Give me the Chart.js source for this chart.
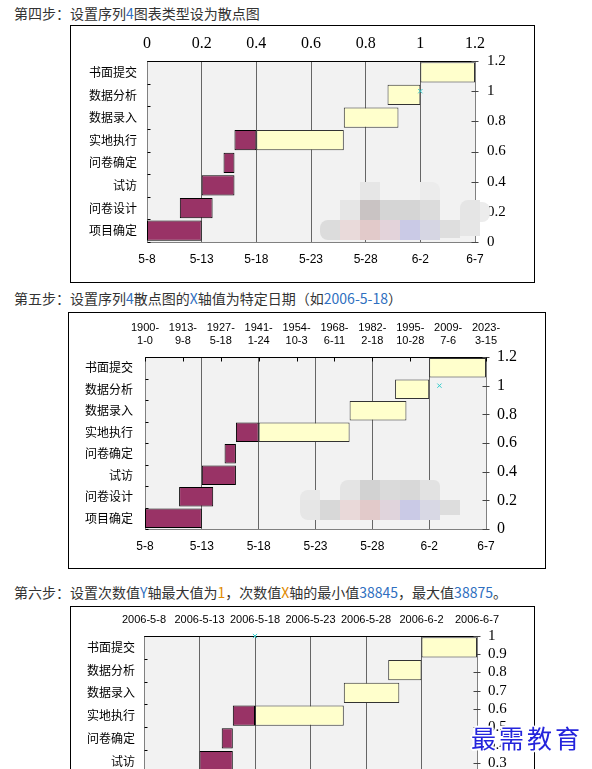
<!DOCTYPE html>
<html><head><meta charset="utf-8">
<script src="https://cdn.jsdelivr.net/npm/chart.js@4.4.1/dist/chart.umd.min.js"></script>
<style>
html,body{margin:0;padding:0;background:#fff;}
body{width:592px;height:769px;overflow:hidden;position:relative;font-family:"Noto Sans CJK SC",sans-serif;}
.step{position:absolute;left:14px;font-size:14px;line-height:16px;color:#333;white-space:nowrap;}
.hl{color:#2f6fc0;} .hl2{color:#e08a00;}
.box{position:absolute;border:1px solid #000;background:#fff;box-sizing:border-box;}
canvas{position:absolute;}
.m{position:absolute;}
.wm{position:absolute;left:471px;top:722px;font-size:25px;line-height:30px;letter-spacing:3px;color:#2424dc;white-space:nowrap;
 text-shadow:1px 1px 0 #fff,-1px -1px 0 #fff,1px -1px 0 #fff,-1px 1px 0 #fff,2px 0 0 #fff,-2px 0 0 #fff,0 2px 0 #fff,0 -2px 0 #fff;}
</style></head>
<body>
<div class="step" style="top:5px">第四步：设置序列<span class="hl">4</span>图表类型设为散点图</div>
<div class="box" style="left:70px;top:25px;width:465px;height:258px"></div>
<canvas id="c1" width="462" height="255" style="left:71px;top:26px"></canvas>

<div class="step" style="top:290px">第五步：设置序列<span class="hl">4</span>散点图的<span class="hl">X</span>轴值为特定日期（如<span class="hl">2006-5-18</span>）</div>
<div class="box" style="left:68px;top:312px;width:478px;height:257px"></div>
<canvas id="c2" width="475" height="254" style="left:69px;top:313px"></canvas>

<div class="step" style="top:584px">第六步：设置次数值<span class="hl">Y</span>轴最大值为<span class="hl2">1</span>，次数值<span class="hl2">X</span>轴的最小值<span class="hl">38845</span>，最大值<span class="hl">38875</span>。</div>
<div class="box" style="left:70px;top:606px;width:465px;height:300px"></div>
<canvas id="c3" width="462" height="250" style="left:71px;top:607px"></canvas>

<!-- mosaic blur decorations -->
<div class="m" style="left:360px;top:182px;width:20px;height:18px;background:#e6e6e6"></div>
<div class="m" style="left:420px;top:182px;width:20px;height:18px;background:#ececec;border-top-right-radius:8px"></div>
<div class="m" style="left:340px;top:200px;width:20px;height:20px;background:#e6e6e6"></div>
<div class="m" style="left:360px;top:200px;width:20px;height:20px;background:#c9c3c3"></div>
<div class="m" style="left:380px;top:200px;width:40px;height:20px;background:#d5d5d5"></div>
<div class="m" style="left:420px;top:200px;width:20px;height:20px;background:#dcdcdc"></div>
<div class="m" style="left:460px;top:200px;width:20px;height:20px;background:#e5e5e5;border-top-left-radius:8px"></div>
<div class="m" style="left:480px;top:202px;width:10px;height:20px;background:#ececec;border-radius:0 8px 8px 0"></div>
<div class="m" style="left:320px;top:220px;width:20px;height:20px;background:#dcdcdc;border-radius:8px 0 0 8px"></div>
<div class="m" style="left:340px;top:220px;width:20px;height:20px;background:#e9dada"></div>
<div class="m" style="left:360px;top:220px;width:20px;height:20px;background:#e2caca"></div>
<div class="m" style="left:380px;top:220px;width:20px;height:20px;background:#e3d3da"></div>
<div class="m" style="left:400px;top:220px;width:20px;height:20px;background:#cacae6"></div>
<div class="m" style="left:420px;top:220px;width:20px;height:20px;background:#d6d6e3"></div>
<div class="m" style="left:440px;top:220px;width:20px;height:18px;background:#dedede"></div>
<div class="m" style="left:460px;top:220px;width:20px;height:16px;background:#e6e6e6"></div>

<div class="m" style="left:300px;top:490px;width:20px;height:10px;background:#e8e8e8;border-top-left-radius:8px"></div>
<div class="m" style="left:340px;top:480px;width:20px;height:20px;background:#e4e4e4;border-top-left-radius:8px"></div>
<div class="m" style="left:360px;top:480px;width:20px;height:20px;background:#d2d2d2"></div>
<div class="m" style="left:380px;top:480px;width:20px;height:20px;background:#dadada"></div>
<div class="m" style="left:400px;top:480px;width:20px;height:20px;background:#d8d8d8"></div>
<div class="m" style="left:420px;top:480px;width:20px;height:20px;background:#e2e2e2;border-top-right-radius:6px"></div>
<div class="m" style="left:300px;top:500px;width:20px;height:20px;background:#e6e6e6;border-bottom-left-radius:8px"></div>
<div class="m" style="left:320px;top:500px;width:20px;height:20px;background:#d8d8d8"></div>
<div class="m" style="left:340px;top:500px;width:20px;height:20px;background:#e9d9d9"></div>
<div class="m" style="left:360px;top:500px;width:20px;height:20px;background:#e2caca"></div>
<div class="m" style="left:380px;top:500px;width:20px;height:20px;background:#e0d4dc"></div>
<div class="m" style="left:400px;top:500px;width:20px;height:20px;background:#cacae6"></div>
<div class="m" style="left:420px;top:500px;width:20px;height:20px;background:#d8d8e4"></div>
<div class="m" style="left:440px;top:500px;width:20px;height:15px;background:#dddddd"></div>

<div class="wm">最需教育</div>

<script>
// ---- data ----
const categories = ['项目确定','问卷设计','试访','问卷确定','实地执行','数据录入','数据分析','书面提交'];
const startDates = [38845, 38848, 38850, 38852, 38853, 38863, 38867, 38870]; // Excel date serials (2006-5-8 = 38845)
const doneDays   = [5, 3, 3, 1, 2, 0, 0, 0];
const remainDays = [0, 0, 0, 0, 8, 5, 3, 5];
const dateTickLabels = ['5-8','5-13','5-18','5-23','5-28','6-2','6-7'];
const step4TopLabels = ['0','0.2','0.4','0.6','0.8','1','1.2'];
const step5TopLabels = [['1900-','1-0'],['1913-','9-8'],['1927-','5-18'],['1941-','1-24'],['1954-','10-3'],['1968-','6-11'],['1982-','2-18'],['1995-','10-28'],['2009-','7-6'],['2023-','3-15']];
const step6TopLabels = ['2006-5-8','2006-5-13','2006-5-18','2006-5-23','2006-5-28','2006-6-2','2006-6-7'];
const rightLabels12 = ['0','0.2','0.4','0.6','0.8','1','1.2'];
const rightLabels10 = ['0','0.1','0.2','0.3','0.4','0.5','0.6','0.7','0.8','0.9','1'];
const step4Point = [{x: 1, y: 1}];
const step5Point = [{x: 38855, y: 1}];
const step6Point = [{x: 38855, y: 1}];

const CJK = '"Noto Sans CJK SC", sans-serif';
const SERIF = '"Liberation Serif", serif';
const SANS = '"Liberation Sans", sans-serif';
const NARROW = '"Liberation Sans Narrow", "Liberation Sans", sans-serif';

const decor = {
  id: 'ganttDecor',
  beforeDraw(chart) {
    const {ctx, chartArea: a} = chart;
    ctx.save(); ctx.fillStyle = '#f2f2f2';
    ctx.fillRect(a.left, a.top, a.right - a.left, a.bottom - a.top); ctx.restore();
  },
  beforeDatasetsDraw(chart, args, opts) {
    const {ctx, chartArea: a, scales} = chart;
    const L = Math.round(a.left) + 0.5, R = Math.round(a.right) + 0.5, T = Math.round(a.top) + 0.5, B = Math.round(a.bottom) + 0.5;
    ctx.save(); ctx.lineWidth = 1;
    ctx.strokeStyle = '#808080';
    ctx.beginPath(); ctx.moveTo(L, T); ctx.lineTo(L, B); ctx.lineTo(R, B); ctx.lineTo(R, T); ctx.stroke();
    ctx.strokeStyle = '#000';
    ctx.beginPath(); ctx.moveTo(L, T); ctx.lineTo(R, T); ctx.stroke();
    // category boundary ticks (inside)
    ctx.strokeStyle = '#000';
    for (let i = 0; i <= categories.length; i++) {
      const y = Math.round(scales.y.getPixelForValue(i - 0.5)) + 0.5;
      ctx.beginPath(); ctx.moveTo(L, y); ctx.lineTo(L + 3, y); ctx.stroke();
    }
    // right axis ticks (crossing)
    ctx.strokeStyle = '#444';
    scales.y2.ticks.forEach(t => {
      const y = Math.round(scales.y2.getPixelForValue(t.value)) + 0.5;
      ctx.beginPath(); ctx.moveTo(R - 4, y); ctx.lineTo(R + 3, y); ctx.stroke();
    });
    if (opts.topTicks) {
      ctx.strokeStyle = '#000';
      scales.x2.ticks.forEach(t => {
        const x = Math.round(scales.x2.getPixelForValue(t.value)) + 0.5;
        ctx.beginPath(); ctx.moveTo(x, T); ctx.lineTo(x, T + 4); ctx.stroke();
      });
    }
    ctx.restore();
  }
};

function labelFrom(arr, min, step) {
  return (v) => arr[Math.round((v - min) / step)];
}

function makeGantt(id, c) {
  const doneBars = startDates.map((s, i) => doneDays[i] > 0 ? [s, s + doneDays[i]] : null);
  const remainBars = startDates.map((s, i) => remainDays[i] > 0 ? [s + doneDays[i], s + doneDays[i] + remainDays[i]] : null);
  return new Chart(document.getElementById(id), {
    type: 'bar',
    data: {
      labels: categories,
      datasets: [
        { type: 'scatter', data: c.point, xAxisID: 'x2', yAxisID: 'y2', order: 0,
          pointStyle: 'crossRot', radius: 3, borderColor: '#33cccc', backgroundColor: '#33cccc', borderWidth: 1, clip: false },
        { label: 'done', data: doneBars, xAxisID: 'x', yAxisID: 'y', order: 1, grouped: false,
          backgroundColor: '#993366', borderColor: '#000', borderWidth: 1, borderSkipped: false,
          barPercentage: 0.9, categoryPercentage: 1.0 },
        { label: 'remain', data: remainBars, xAxisID: 'x', yAxisID: 'y', order: 2, grouped: false,
          backgroundColor: '#ffffcc', borderColor: '#333', borderWidth: 1, borderSkipped: false,
          barPercentage: 0.9, categoryPercentage: 1.0 }
      ]
    },
    options: {
      indexAxis: 'y', responsive: false, animation: false, devicePixelRatio: 1,
      layout: { padding: 0 },
      plugins: { legend: { display: false }, tooltip: { enabled: false }, ganttDecor: { topTicks: c.topTicks } },
      scales: {
        x: { type: 'linear', axis: 'x', position: 'bottom', min: 38845, max: 38875, offset: false,
          ticks: { stepSize: 5, autoSkip: false, maxRotation: 0, padding: c.bottomPad, color: '#000',
                   font: { family: SANS, size: 12 }, callback: labelFrom(dateTickLabels, 38845, 5) },
          grid: { drawTicks: false, color: '#666', lineWidth: 1, offset: false }, border: { display: false },
          afterFit: s => { s.height = c.bottomH; } },
        x2: { type: 'linear', axis: 'x', position: 'top', min: c.x2min, max: c.x2max, offset: false,
          ticks: { stepSize: c.x2step, autoSkip: false, maxRotation: 0, padding: c.topPad, color: '#000',
                   font: c.topFont, callback: labelFrom(c.topLabels, c.x2min, c.x2step) },
          grid: { display: false, drawTicks: false, offset: false }, border: { display: false },
          afterFit: s => { s.height = c.topH; } },
        y: { type: 'category', axis: 'y', position: 'left', reverse: true, offset: true,
          ticks: { autoSkip: false, padding: c.leftPad, color: '#000', font: { family: CJK, size: 12 } },
          grid: { display: false, drawTicks: false }, border: { display: false },
          afterFit: s => { s.width = c.leftW; } },
        y2: { type: 'linear', axis: 'y', position: 'right', min: 0, max: c.y2max, offset: false,
          ticks: { stepSize: c.y2step, autoSkip: false, padding: c.rightPad, color: '#000',
                   font: c.rightFont, callback: labelFrom(c.rightLabels, 0, c.y2step) },
          grid: { display: false, drawTicks: false, offset: false }, border: { display: false },
          afterFit: s => { s.width = c.rightW; } }
      }
    },
    plugins: [decor]
  });
}

makeGantt('c1', {
  point: step4Point, x2min: 0, x2max: 1.2, x2step: 0.2, topLabels: step4TopLabels,
  topFont: { family: SERIF, size: 16 }, y2max: 1.2, y2step: 0.2, rightLabels: rightLabels12,
  rightFont: { family: SERIF, size: 15 }, leftW: 76, rightW: 58, topH: 35, bottomH: 39,
  leftPad: 10, rightPad: 12, topPad: 8, bottomPad: 10, topTicks: false
});
makeGantt('c2', {
  point: step5Point, x2min: 0, x2max: 45000, x2step: 5000, topLabels: step5TopLabels,
  topFont: { family: NARROW, size: 11, lineHeight: '13px' }, y2max: 1.2, y2step: 0.2, rightLabels: rightLabels12,
  rightFont: { family: SERIF, size: 16 }, leftW: 76, rightW: 58, topH: 44, bottomH: 38,
  leftPad: 12, rightPad: 11, topPad: 10, bottomPad: 10, topTicks: true
});
makeGantt('c3', {
  point: step6Point, x2min: 38845, x2max: 38875, x2step: 5, topLabels: step6TopLabels,
  topFont: { family: NARROW, size: 11 }, y2max: 1, y2step: 0.1, rightLabels: rightLabels10,
  rightFont: { family: SERIF, size: 15 }, leftW: 73, rightW: 56, topH: 29, bottomH: 39,
  leftPad: 9, rightPad: 11, topPad: 9, bottomPad: 10, topTicks: false
});
</script>
</body></html>
